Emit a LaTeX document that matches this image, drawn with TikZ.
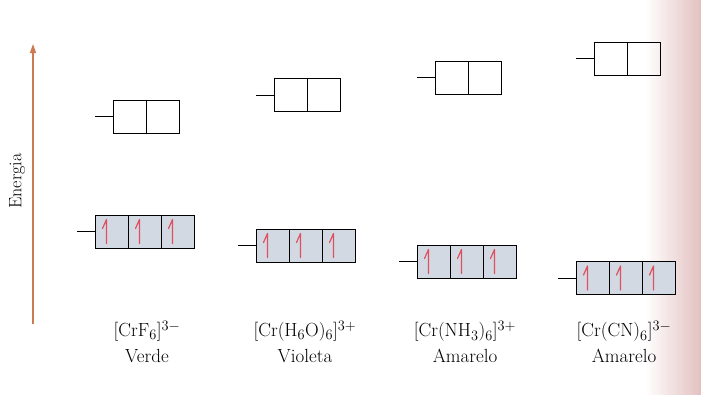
\documentclass[tikz,border=0pt]{standalone}
\usepackage{tikz}
\usetikzlibrary{calc,arrows.meta}
\definecolor{orbfill}{HTML}{D3D9E3}
\definecolor{spincol}{HTML}{DC5060}
\definecolor{axiscol}{HTML}{CC7A50}
\definecolor{edgepink}{HTML}{E3C0C0}
\tikzset{
  cell/.style={draw=black, line width=0.9pt, minimum width=33pt, minimum height=33pt,
    inner sep=0pt, outer sep=0pt, anchor=west},
  filled/.style={cell, fill=orbfill},
  lead/.style={line width=0.9pt},
  spin/.style={draw=spincol, line width=1.2pt, line cap=round, line join=round},
  label/.style={font=\fontsize{19}{26}\selectfont, align=center}
}
% half-arrow electron inside a cell
\newcommand\upspin[1]{\draw[spin] ($(#1.center)+(-5,12)$) -- ($(#1.center)+(-5,-12)$) -- ($(#1.center)+(-9,-3)$);}
\begin{document}
\begin{tikzpicture}[x=1pt,y=-1pt]
\useasboundingbox (0,0) rectangle (701,394);
\shade[left color=white, right color=edgepink] (645,0) rectangle (701,394);

% energy axis
\coordinate (axbot) at (33,324);
\coordinate (axtop) at (33,44);
\draw[draw=axiscol, line width=1.3pt, -{Triangle[length=9pt,width=6pt]}] (axbot) -- (axtop);
\node[rotate=90, font=\fontsize{18}{20}\selectfont] (energia) at (17,181) {Energia};

% e_g pairs (upper) and t_2g triples (lower)
\foreach \n/\ux/\uy/\lx/\ly in {1/113/116.5/95/231.5, 2/274/95/256/245.5, 3/435/77.5/417/261.5, 4/594/58.5/576/278}{
  \node[cell] (u\n a) at (\ux,\uy) {};
  \node[cell] (u\n b) at (u\n a.east) {};
  \coordinate (ul\n) at ($(u\n a.west)+(-18,0)$);
  \draw[lead] (ul\n) -- (u\n a.west);
  \node[filled] (l\n a) at (\lx,\ly) {};
  \node[filled] (l\n b) at (l\n a.east) {};
  \node[filled] (l\n c) at (l\n b.east) {};
  \coordinate (ll\n) at ($(l\n a.west)+(-18,0)$);
  \draw[lead] (ll\n) -- (l\n a.west);
  \upspin{l\n a}
  \upspin{l\n b}
  \upspin{l\n c}
}

% complexes and colours
\node[label] (c1) at (147,342) {[CrF$_6$]$^{3-}$\\ Verde};
\node[label] (c2) at (305,342) {[Cr(H$_6$O)$_6$]$^{3+}$\\ Violeta};
\node[label] (c3) at (465,342) {[Cr(NH$_3$)$_6$]$^{3+}$\\ Amarelo};
\node[label] (c4) at (624,342) {[Cr(CN)$_6$]$^{3-}$\\ Amarelo};
\end{tikzpicture}
\end{document}
